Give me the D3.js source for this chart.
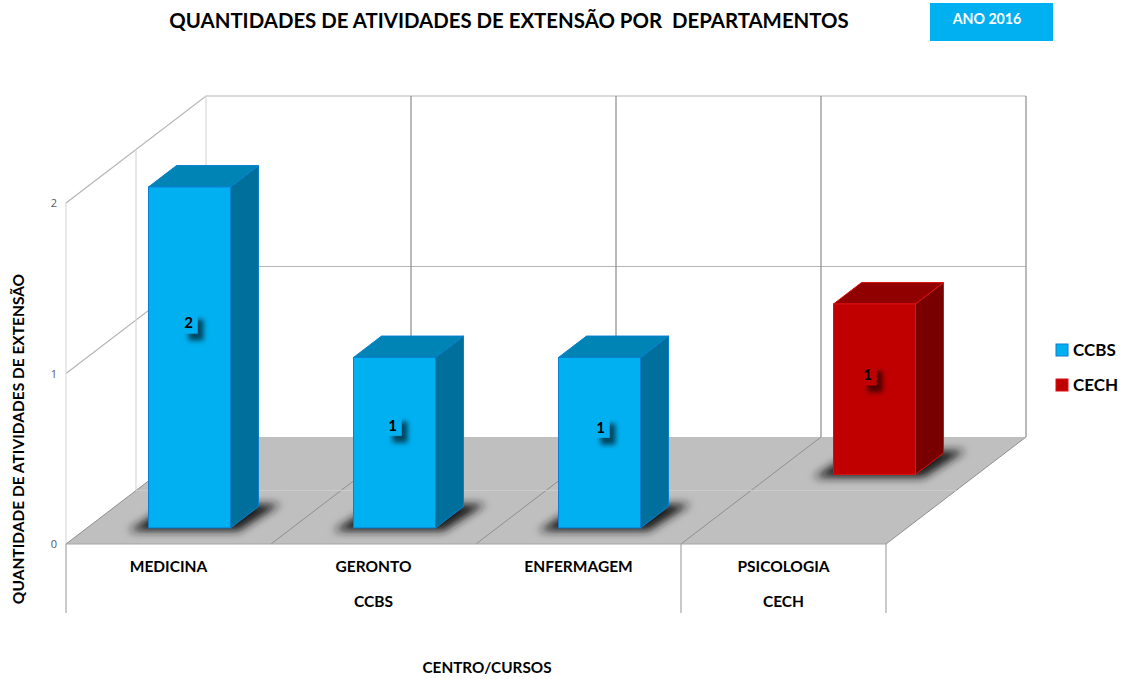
<!DOCTYPE html>
<html>
<head>
<meta charset="utf-8">
<script src="https://cdnjs.cloudflare.com/ajax/libs/d3/7.8.5/d3.min.js"></script>
<style>
    html, body { margin: 0; padding: 0; background: #fff; }
    svg { display: block; }
    text { font-family: Lato, "Open Sans", sans-serif; font-weight: bold; fill: #000; }
</style>
</head>
<body>
<svg id="chart" width="1122" height="679"></svg>
<script>
// Chart values
const categories = ["MEDICINA", "GERONTO", "ENFERMAGEM", "PSICOLOGIA"];
const centers = ["CCBS", "CCBS", "CCBS", "CECH"];
const values = [2, 1, 1, 1];
const seriesNames = ["CCBS", "CECH"];
const yTicks = [0, 1, 2];

const svg = d3.select("#chart");

// Front edge of the floor and how far the depth axis runs up and to the right
const plot = { left: 66, right: 886, bottom: 544, top: 203, depthX: 140, depthY: 107 };

const x = d3.scaleBand().domain(d3.range(categories.length))
    .range([plot.left, plot.right]).paddingInner(0.6).paddingOuter(0.3);
const y = d3.scaleLinear().domain([0, 2]).range([plot.bottom, plot.top]);
const z = d3.scaleBand().domain(seriesNames).range([0, 1]).paddingInner(0.6).paddingOuter(0.3);

// Project plot coordinates on the slanted 3D box
const pt = (px, value, depth) => [px + depth * plot.depthX, y(value) - depth * plot.depthY];
const poly = pts => pts.map(p => p.join(",")).join(" ");

const colors = {
    CCBS: { front: "#00b0f0", top: "#0084b5", side: "#006f9c", stroke: "#0a7fd0" },
    CECH: { front: "#c00000", top: "#900000", side: "#780000", stroke: "#dc1010" }
};

const defs = svg.append("defs");
defs.append("filter").attr("id", "floorShadow")
    .attr("x", "-30%").attr("y", "-60%").attr("width", "160%").attr("height", "220%")
    .append("feGaussianBlur").attr("stdDeviation", 4);
defs.append("filter").attr("id", "labelShadow")
    .attr("x", "-60%").attr("y", "-60%").attr("width", "240%").attr("height", "240%")
    .append("feDropShadow").attr("dx", 6).attr("dy", 7).attr("stdDeviation", 2.6)
    .attr("flood-color", "#000").attr("flood-opacity", 0.6);

// Boundaries between the categories on the floor and back wall
const step = x.step();
const edges = d3.range(categories.length + 1).map(i => plot.left + i * step);

const walls = svg.append("g").attr("fill", "none");

// Floor
svg.insert("polygon", "g")
    .attr("points", poly([pt(plot.left, 0, 0), pt(plot.right, 0, 0), pt(plot.right, 0, 1), pt(plot.left, 0, 1)]))
    .attr("fill", "#bfbfbf");

// Horizontal grid lines on the left and back walls
yTicks.slice(1).forEach(t => {
    walls.append("polyline")
        .attr("points", poly([pt(plot.left, t, 0), pt(plot.left, t, 1), pt(plot.right, t, 1)]))
        .attr("stroke", "#b5b5b5").attr("stroke-width", 1.2);
});

// Verticals on the left wall
[0, 0.5, 1].forEach(d => {
    walls.append("line")
        .attr("x1", pt(plot.left, 0, d)[0]).attr("x2", pt(plot.left, 0, d)[0])
        .attr("y1", pt(plot.left, 0, d)[1]).attr("y2", pt(plot.left, 2, d)[1])
        .attr("stroke", "#d9d9d9").attr("stroke-width", 1.2);
});

// Verticals on the back wall
edges.slice(1).forEach(e => {
    walls.append("line")
        .attr("x1", pt(e, 0, 1)[0]).attr("x2", pt(e, 0, 1)[0])
        .attr("y1", pt(e, 0, 1)[1]).attr("y2", pt(e, 2, 1)[1])
        .attr("stroke", "#8c8c8c").attr("stroke-width", 1.2);
});

// Floor lines: the depth divisions, the seam between the two rows, and the front edge
edges.forEach(e => {
    walls.append("line")
        .attr("x1", pt(e, 0, 0)[0]).attr("y1", pt(e, 0, 0)[1])
        .attr("x2", pt(e, 0, 1)[0]).attr("y2", pt(e, 0, 1)[1])
        .attr("stroke", "#8f8f8f").attr("stroke-width", 1);
});
walls.append("line")
    .attr("x1", pt(plot.left, 0, 0.5)[0]).attr("y1", pt(plot.left, 0, 0.5)[1])
    .attr("x2", pt(plot.right, 0, 0.5)[0]).attr("y2", pt(plot.right, 0, 0.5)[1])
    .attr("stroke", "#cbcbcb").attr("stroke-width", 1);
walls.append("line")
    .attr("x1", plot.left).attr("y1", plot.bottom)
    .attr("x2", plot.right).attr("y2", plot.bottom)
    .attr("stroke", "#a6a6a6").attr("stroke-width", 1.2);

// Bars, with the row further back drawn first
const barData = categories.map((c, i) => ({ i, center: centers[i], value: values[i] }))
    .sort((a, b) => d3.descending(a.center, b.center));

const bars = svg.append("g").selectAll("g").data(barData).join("g");

bars.each(function (d) {
    const g = d3.select(this);
    const c = colors[d.center];
    const x0 = x(d.i), x1 = x0 + x.bandwidth();
    const d0 = z(d.center), d1 = d0 + z.bandwidth();
    const [fx0, fy] = pt(x0, 0, d0);
    const [fx1] = pt(x1, 0, d0);

    // Soft shadow on the floor around the foot of the bar
    g.append("polygon")
        .attr("points", poly([
            [fx0 - 20, fy + 3],
            [fx1 + 8, fy + 3],
            [fx1 + 50, fy - 24],
            [fx0 + 22, fy - 24]
        ]))
        .attr("fill", "#1a1a1a").attr("filter", "url(#floorShadow)");

    g.append("polygon")
        .attr("points", poly([pt(x1, 0, d0), pt(x1, 0, d1), pt(x1, d.value, d1), pt(x1, d.value, d0)]))
        .attr("fill", c.side).attr("stroke", c.stroke);
    g.append("polygon")
        .attr("points", poly([pt(x0, d.value, d0), pt(x1, d.value, d0), pt(x1, d.value, d1), pt(x0, d.value, d1)]))
        .attr("fill", c.top).attr("stroke", c.stroke);
    g.append("rect")
        .attr("x", fx0).attr("y", pt(x0, d.value, d0)[1])
        .attr("width", x.bandwidth()).attr("height", y(0) - y(d.value))
        .attr("fill", c.front).attr("stroke", c.stroke);
});

// Value labels, hand placed in the original so each has its own shift from the bar centre
const labelShift = [[-1, -34], [-2, -17], [1, -15], [-7, -14]];

barData.forEach(d => {
    const c = colors[d.center];
    const d0 = z(d.center);
    const cx = pt(x(d.i) + x.bandwidth() / 2, 0, d0)[0] + labelShift[d.i][0];
    const cy = pt(0, d.value / 2, d0)[1] + labelShift[d.i][1];
    svg.append("rect")
        .attr("x", cx - 6).attr("y", cy - 11).attr("width", 15).attr("height", 21)
        .attr("fill", c.front).attr("filter", "url(#labelShadow)");
    svg.append("text")
        .attr("x", cx).attr("y", cy + 5)
        .attr("text-anchor", "middle").style("font-size", "15px")
        .text(d.value);
});

// Y axis
const yAxis = svg.append("g").attr("transform", `translate(${plot.left},0)`)
    .call(d3.axisLeft(y).tickValues(yTicks).tickFormat(d3.format("d")).tickSize(0).tickPadding(9));
yAxis.select(".domain").remove();
yAxis.selectAll("text").attr("style", "font-family:'Open Sans',sans-serif;font-weight:normal;font-size:11px;fill:#595959");

// X axis, two levels: course then centre
const xAxis = svg.append("g").attr("transform", `translate(0,${plot.bottom})`)
    .call(d3.axisBottom(x).tickFormat(i => categories[i]).tickSize(0).tickPadding(17));
xAxis.select(".domain").remove();
xAxis.selectAll("text").attr("style", "font-family:Lato,sans-serif;font-weight:bold;font-size:15.5px;fill:#000");

// Left end of the category axis
svg.append("line")
    .attr("x1", plot.left).attr("x2", plot.left)
    .attr("y1", plot.bottom).attr("y2", plot.bottom + 69)
    .attr("stroke", "#a6a6a6").attr("stroke-width", 1.2);

const groups = d3.groups(centers.map((c, i) => ({ c, i })), d => d.c);
groups.forEach(([name, items]) => {
    const left = x(items[0].i) - x.step() * x.paddingOuter();
    const right = x(items[items.length - 1].i) + x.bandwidth() + x.step() * x.paddingOuter();
    svg.append("text")
        .attr("x", (left + right) / 2).attr("y", 607)
        .attr("text-anchor", "middle").style("font-size", "15.5px")
        .text(name);
    svg.append("line")
        .attr("x1", right).attr("x2", right)
        .attr("y1", plot.bottom).attr("y2", plot.bottom + 69)
        .attr("stroke", "#a6a6a6").attr("stroke-width", 1.2);
});

// Titles
svg.append("text")
    .attr("x", 509).attr("y", 28)
    .attr("text-anchor", "middle").style("font-size", "20.4px")
    .text("QUANTIDADES DE ATIVIDADES DE EXTENSÃO POR  DEPARTAMENTOS")
    .attr("xml:space", "preserve");
svg.append("text")
    .attr("x", 487).attr("y", 673)
    .attr("text-anchor", "middle").style("font-size", "15.3px")
    .text("CENTRO/CURSOS");
svg.append("text")
    .attr("transform", "translate(24,439) rotate(-90)")
    .attr("text-anchor", "middle").style("font-size", "15.5px")
    .text("QUANTIDADE DE ATIVIDADES DE EXTENSÃO");

// Year box
svg.append("rect")
    .attr("x", 930).attr("y", 3).attr("width", 123).attr("height", 38)
    .attr("fill", "#00b0f0");
svg.append("text")
    .attr("x", 987).attr("y", 24)
    .attr("text-anchor", "middle").style("font-size", "14.2px").style("fill", "#fff")
    .text("ANO 2016");

// Legend
seriesNames.forEach((name, i) => {
    const row = svg.append("g").attr("transform", `translate(1056,${344 + i * 35})`);
    row.append("rect").attr("width", 12).attr("height", 12)
        .attr("fill", colors[name].front).attr("stroke", colors[name].stroke);
    row.append("text").attr("x", 17).attr("y", 12)
        .style("font-size", "17px").text(name);
});
</script>
</body>
</html>
